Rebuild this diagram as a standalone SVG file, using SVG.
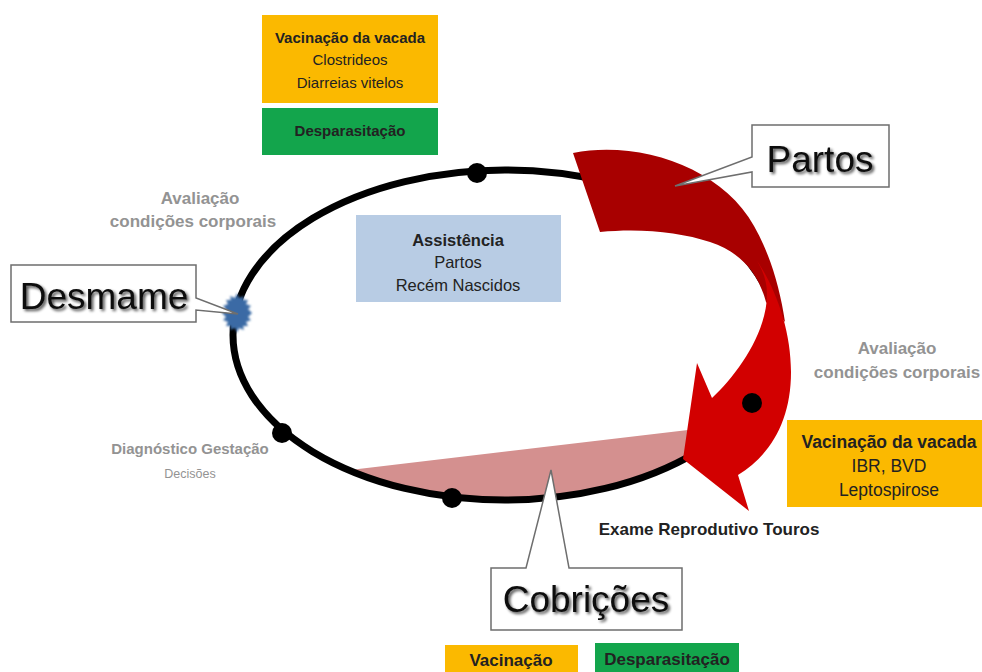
<svg xmlns="http://www.w3.org/2000/svg" width="982" height="672" viewBox="0 0 982 672">
<style>
.t{font-family:"Liberation Sans",Arial,sans-serif;text-anchor:middle}
.b{font-weight:bold}
.box{fill:#222}
.gray{fill:#939393}
.call{font-size:37px;fill:#111}
.cbox{fill:#fff;stroke:#6e6e6e;stroke-width:1.5}
.dot{fill:#000}
</style>
<defs>
<filter id="sh" x="-10%" y="-20%" width="130%" height="150%">
<feGaussianBlur in="SourceAlpha" stdDeviation="1.6"/>
<feOffset dx="2" dy="2" result="o"/>
<feComponentTransfer><feFuncA type="linear" slope="0.7"/></feComponentTransfer>
<feMerge><feMergeNode/><feMergeNode in="SourceGraphic"/></feMerge>
</filter>
<filter id="fz" x="-30%" y="-30%" width="160%" height="160%">
<feGaussianBlur stdDeviation="0.8"/>
</filter>
</defs>
<rect width="982" height="672" fill="#fff"/>

<g id="cycle">
<path d="M350,470 L688,430 L688,457 A272,165 0 0,1 350,470 Z" fill="#d4908f"/>
<ellipse cx="505" cy="335" rx="272" ry="165" fill="none" stroke="#000" stroke-width="7"/>
<circle class="dot" cx="477" cy="173" r="10"/>
<circle class="dot" cx="282" cy="433" r="10"/>
<circle class="dot" cx="452" cy="498" r="10"/>
<polygon fill="#3b6aa5" filter="url(#fz)" points="252,313 248,317 251,320 246,322 248,326 243,326 244,330 239,328 237,333 235,328 230,330 231,326 226,326 228,322 223,320 226,317 222,313 226,309 223,306 228,304 226,300 231,300 230,296 235,298 237,293 239,298 244,296 243,300 248,300 246,304 251,306 248,309"/>
</g>

<g id="arrow">
<path d="M573,153 C640,140 722,168 754,226 C770,254 780,288 785,322 L766,302 C758,272 740,252 710,242 C680,232 640,228 600,232 Z" fill="#a80000"/>
<path d="M754,256 C776,288 791,330 791,372 C791,420 771,455 738,475 L749,511 L683,459 L697,363 L712,398 C738,374 767,332 767,294 C767,280 762,268 754,256 Z" fill="#d20000"/>
<circle class="dot" cx="752" cy="403" r="10"/>
</g>

<g id="box-vacinacao-top">
<rect x="262" y="15" width="176" height="88" fill="#fbb900"/>
<text class="t b box" x="350" y="43" font-size="15">Vacinação da vacada</text>
<text class="t box" x="350" y="65" font-size="15">Clostrideos</text>
<text class="t box" x="350" y="88" font-size="15">Diarreias vitelos</text>
</g>
<g id="box-desparasitacao-top">
<rect x="262" y="108" width="176" height="47" fill="#13a54c"/>
<text class="t b box" x="350" y="136" font-size="15">Desparasitação</text>
</g>
<g id="box-assistencia">
<rect x="356" y="215" width="205" height="87" fill="#b8cce4"/>
<text class="t b box" x="458" y="246" font-size="16.5">Assistência</text>
<text class="t box" x="458" y="268" font-size="16.5">Partos</text>
<text class="t box" x="458" y="291" font-size="16.5">Recém Nascidos</text>
</g>
<g id="box-vacinacao-right">
<rect x="787" y="420" width="200" height="87" fill="#fbb900"/>
<text class="t b box" x="889" y="448" font-size="17.5">Vacinação da vacada</text>
<text class="t box" x="889" y="472" font-size="17.5">IBR, BVD</text>
<text class="t box" x="889" y="496" font-size="17.5">Leptospirose</text>
</g>
<g id="box-vacinacao-bottom">
<rect x="445" y="645" width="133" height="30" fill="#fbb900"/>
<text class="t b box" x="511" y="666" font-size="17">Vacinação</text>
</g>
<g id="box-desparasitacao-bottom">
<rect x="595" y="643" width="144" height="32" fill="#13a54c"/>
<text class="t b box" x="667" y="665" font-size="17">Desparasitação</text>
</g>

<g id="label-avaliacao-left">
<text class="t b gray" x="200" y="204" font-size="17">Avaliação</text>
<text class="t b gray" x="193" y="227" font-size="17">condições corporais</text>
</g>
<g id="label-avaliacao-right">
<text class="t b gray" x="897" y="354" font-size="17">Avaliação</text>
<text class="t b gray" x="897" y="378" font-size="17">condições corporais</text>
</g>
<g id="label-diagnostico">
<text class="t b gray" x="190" y="454" font-size="15">Diagnóstico Gestação</text>
<text class="t gray" x="190" y="478" font-size="12.5">Decisões</text>
</g>
<g id="label-exame">
<text class="t b box" x="709" y="535" font-size="17">Exame Reprodutivo Touros</text>
</g>

<g id="callout-partos">
<path class="cbox" d="M752,125 H889 V187 H752 V172 L675,186 L752,157 Z"/>
<text class="t call" x="820" y="172" filter="url(#sh)">Partos</text>
</g>
<g id="callout-desmame">
<path class="cbox" d="M11,265 H196 V298 L238,314 L196,310 V322 H11 Z"/>
<text class="t call" x="104" y="309" filter="url(#sh)">Desmame</text>
</g>
<g id="callout-cobricoes">
<path class="cbox" d="M491,568 H526 L551,470 L569,568 H682 V630 H491 Z"/>
<text class="t call" x="586" y="612" filter="url(#sh)">Cobrições</text>
</g>
</svg>
